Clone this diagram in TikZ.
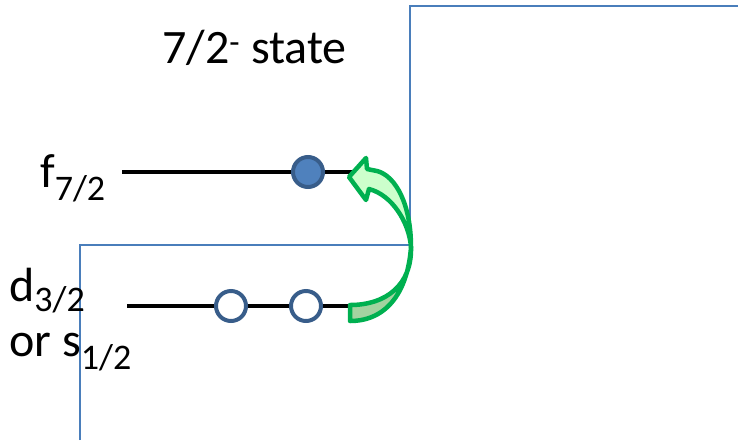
\documentclass[tikz,border=0pt]{standalone}
\usepackage{fontspec}
\setmainfont{Carlito}
\usetikzlibrary{positioning}
\definecolor{wallblue}{HTML}{4A7EBB}
\definecolor{orbfill}{HTML}{4F81BD}
\definecolor{orbedge}{HTML}{385D8A}
\definecolor{bendgreen}{HTML}{00B050}
\definecolor{bendlight}{HTML}{CCFFCC}
\definecolor{benddark}{HTML}{A3D3A0}
\newcommand{\lsub}[2][13pt]{\raisebox{-#1}{\fontsize{36}{36}\selectfont #2}}

\begin{document}
\begin{tikzpicture}[x=1pt, y=-1pt,
                    level/.style = {line width=3.5pt},
                    orb/.style = {circle, draw=orbedge, line width=4pt, fill=white,
                                  minimum size=30pt, inner sep=0pt},
                    full/.style = {orb, fill=orbfill},
                    lbl/.style = {anchor=base west, inner sep=0pt,
                                  font=\fontsize{48}{48}\selectfont},
                    jump/.style = {draw=bendgreen, line width=4.5pt, line join=round}]
\useasboundingbox (0,0) rectangle (738,440);
% well edges
\draw[wallblue, line width=1.4pt] (80,440) -- (80,245) -- (410,245) -- (410,6) -- (738,6);
% upper level with one particle
\coordinate (f0) at (122,172);
\coordinate (f1) at (378,172);
\draw[level] (f0) -- (f1);
\node[full] (p1) at (308,172) {};
% lower level with two holes
\coordinate (d0) at (127,306);
\coordinate (d1) at (350,306);
\draw[level] (d0) -- (d1);
\node[orb] (h1) at (231,306) {};
\node[orb] (h2) at (306,306) {};
% labels
\node[lbl] (state) at (162,63) {7/2\textsuperscript{-} state};
\node[lbl] (fl) at (40,187) {f\lsub{7/2}};
\node[lbl] (dl) at (9,301) {d\lsub[10pt]{3/2}};
\node[lbl] (sl) at (9,356) {or s\lsub{1/2}};
% jump arrow
\draw[jump, fill=benddark] (411,247) .. controls (412,285) and (386,305) .. (350,305)
      -- (350,321) .. controls (388,321) and (408,290) .. (411,247) -- cycle;
\draw[jump, fill=bendlight] (411,247) .. controls (411,205) and (396,176) .. (377,171)
      -- (367,169) -- (366,158) -- (349,177) -- (366,200) -- (369,189)
      .. controls (392,195) and (409,222) .. (411,247) -- cycle;
\end{tikzpicture}
\end{document}
